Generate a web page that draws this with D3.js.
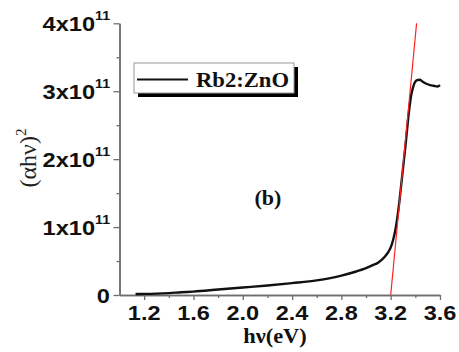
<!DOCTYPE html>
<html>
<head>
<meta charset="utf-8">
<script src="https://cdn.jsdelivr.net/npm/d3@7"></script>
<style>
  html, body { margin: 0; padding: 0; background: #fff; }
  svg { display: block; }
</style>
</head>
<body>
<svg id="chart" width="459" height="352"></svg>
<script>
// Photon energy (eV) and (alpha*h*nu)^2 for the Rb2:ZnO film
const energy = [1.13, 1.2, 1.3, 1.4, 1.5, 1.6, 1.8, 2.0, 2.2, 2.4, 2.6, 2.7, 2.8, 2.9, 3.0,
                3.05, 3.1, 3.15, 3.18, 3.21, 3.235, 3.26, 3.29, 3.32, 3.345, 3.365, 3.385,
                3.41, 3.435, 3.46, 3.49, 3.52, 3.55, 3.58, 3.6];
const absorption = [0.015e11, 0.016e11, 0.02e11, 0.028e11, 0.04e11, 0.05e11, 0.08e11, 0.11e11,
                    0.14e11, 0.175e11, 0.215e11, 0.245e11, 0.285e11, 0.335e11, 0.395e11, 0.435e11,
                    0.48e11, 0.56e11, 0.63e11, 0.75e11, 0.93e11, 1.22e11, 1.7e11, 2.2e11,
                    2.65e11, 2.93e11, 3.08e11, 3.16e11, 3.17e11, 3.14e11, 3.11e11, 3.09e11,
                    3.08e11, 3.07e11, 3.09e11];

// Linear extrapolation of the absorption edge (Tauc fit)
const fitEnergy = [3.2, 3.41];
const fitValue = [0, 4e11];

// Axis ticks
const xTicks = [1.2, 1.6, 2.0, 2.4, 2.8, 3.2, 3.6];
const xTickLabels = ["1.2", "1.6", "2.0", "2.4", "2.8", "3.2", "3.6"];
const xMinor = [1.4, 1.8, 2.2, 2.6, 3.0, 3.4];
const yTicks = [0, 1e11, 2e11, 3e11, 4e11];
const yTickMantissa = ["0", "1x10", "2x10", "3x10", "4x10"];
const yTickExponent = ["", "11", "11", "11", "11"];
const yMinor = [0.5e11, 1.5e11, 2.5e11, 3.5e11];

const seriesName = "Rb2:ZnO";
const panelLabel = "(b)";

const svg = d3.select("#chart");
const SANS = "'Liberation Sans', Arial, sans-serif";
const SERIF = "'Liberation Serif', 'Times New Roman', serif";

const x = d3.scaleLinear().domain([1.0, 3.6]).range([119.5, 440]);
const y = d3.scaleLinear().domain([0, 4e11]).range([295, 23.3]);

const axisColor = "#6e6e6e";

function styleAxis(g) {
  g.selectAll("path.domain").attr("stroke", axisColor).attr("stroke-width", 1.5);
  g.selectAll(".tick line").attr("stroke", axisColor).attr("stroke-width", 1.3);
  g.selectAll(".tick text").remove();
}

// x axis
svg.append("g").attr("transform", `translate(0,${y(0)})`)
  .call(d3.axisBottom(x).tickValues(xTicks).tickSize(5).tickSizeOuter(0).tickFormat(""))
  .call(styleAxis);
svg.append("g").attr("transform", `translate(0,${y(0)})`)
  .call(d3.axisBottom(x).tickValues(xMinor).tickSize(3).tickSizeOuter(0).tickFormat(""))
  .call(styleAxis);

// y axis
svg.append("g").attr("transform", `translate(${x(1.0)},0)`)
  .call(d3.axisLeft(y).tickValues(yTicks).tickSize(6).tickSizeOuter(0).tickFormat(""))
  .call(styleAxis);
svg.append("g").attr("transform", `translate(${x(1.0)},0)`)
  .call(d3.axisLeft(y).tickValues(yMinor).tickSize(3).tickSizeOuter(0).tickFormat(""))
  .call(styleAxis);

// x tick labels
xTicks.forEach((t, i) => {
  svg.append("g")
    .attr("transform", `translate(${x(t)},320) scale(1.12,1)`)
    .append("text")
    .attr("text-anchor", "middle")
    .attr("font-family", SANS).attr("font-weight", "bold").attr("font-size", 21)
    .attr("fill", "#111")
    .text(xTickLabels[i]);
});

// y tick labels with superscript exponents
yTicks.forEach((t, i) => {
  const g = svg.append("g")
    .attr("transform", `translate(110,${y(t) + 7.5}) scale(1.18,1)`);
  const txt = g.append("text")
    .attr("text-anchor", "end")
    .attr("font-family", SANS).attr("font-weight", "bold").attr("font-size", 20)
    .attr("fill", "#111");
  txt.append("tspan").text(yTickMantissa[i]);
  if (yTickExponent[i]) {
    txt.append("tspan").attr("font-size", 12).attr("dy", -11).text(yTickExponent[i]);
  }
});

// axis titles
svg.append("g")
  .attr("transform", "translate(275,343) scale(1.12,1)")
  .append("text")
  .attr("text-anchor", "middle")
  .attr("font-family", SERIF).attr("font-weight", "bold").attr("font-size", 20)
  .attr("fill", "#111")
  .text("hν(eV)");

const yTitle = svg.append("text")
  .attr("transform", "translate(36,158) rotate(-90)")
  .attr("text-anchor", "middle")
  .attr("font-family", SERIF).attr("font-size", 24)
  .attr("fill", "#222");
yTitle.append("tspan").text("(αhν)");
yTitle.append("tspan").attr("font-size", 15).attr("dy", -10).text("2");

// data curve
const line = d3.line().x(d => x(d[0])).y(d => y(d[1])).curve(d3.curveMonotoneX);
svg.append("path")
  .datum(d3.zip(energy, absorption))
  .attr("fill", "none").attr("stroke", "#111").attr("stroke-width", 2.4)
  .attr("stroke-linejoin", "round")
  .attr("d", line);

// band-gap extrapolation line
svg.append("path")
  .datum(d3.zip(fitEnergy, fitValue))
  .attr("fill", "none").attr("stroke", "#ff2222").attr("stroke-width", 1.2)
  .attr("d", d3.line().x(d => x(d[0])).y(d => y(d[1])));

// legend
const lg = svg.append("g").attr("transform", "translate(134,63)");
lg.append("rect").attr("x", 4).attr("y", 4).attr("width", 160).attr("height", 30).attr("fill", "#000");
lg.append("rect").attr("x", 0).attr("y", 0).attr("width", 160).attr("height", 30)
  .attr("fill", "#fff").attr("stroke", "#9a9a9a").attr("stroke-width", 1);
lg.append("line").attr("x1", 3).attr("x2", 54).attr("y1", 16.5).attr("y2", 16.5)
  .attr("stroke", "#111").attr("stroke-width", 2);
lg.append("text")
  .attr("x", 62).attr("y", 24)
  .attr("font-family", SERIF).attr("font-weight", "bold").attr("font-size", 21)
  .attr("fill", "#111")
  .attr("textLength", 93).attr("lengthAdjust", "spacingAndGlyphs")
  .text(seriesName);

// panel label
svg.append("text")
  .attr("x", 268).attr("y", 205)
  .attr("text-anchor", "middle")
  .attr("font-family", SERIF).attr("font-weight", "bold").attr("font-size", 22)
  .attr("fill", "#111")
  .text(panelLabel);
</script>
</body>
</html>
